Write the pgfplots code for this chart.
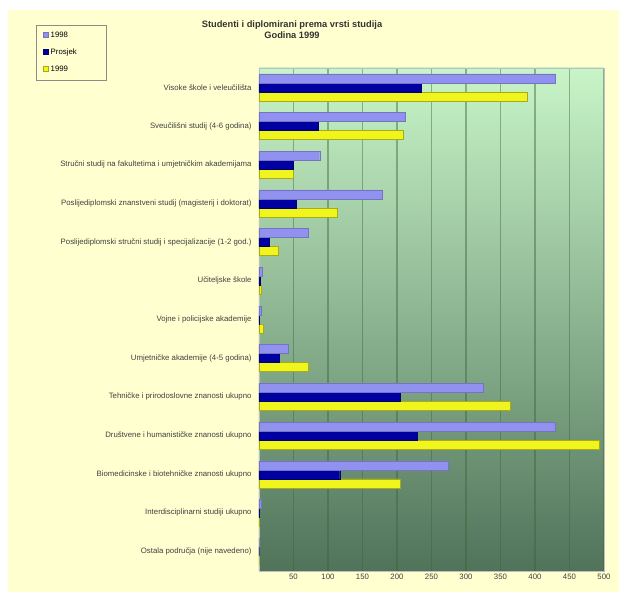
\documentclass[border=0pt]{standalone}
\usepackage{pgfplots}
\pgfplotsset{compat=1.18}
\usepackage{fontspec}
\setmainfont{Liberation Sans}
\definecolor{bgyellow}{RGB}{255,255,208}
\definecolor{barlight}{RGB}{145,145,240}
\definecolor{bardark}{RGB}{0,0,160}
\definecolor{baryellow}{RGB}{240,245,30}
\definecolor{gtop}{RGB}{200,245,200}
\definecolor{gmid}{RGB}{160,205,160}
\definecolor{gbot}{RGB}{80,115,90}
\definecolor{gridc}{RGB}{60,100,60}
\begin{document}
\begin{tikzpicture}
\fill[white] (0pt,0pt) rectangle (619pt,592pt);
\fill[bgyellow] (8pt,0pt) rectangle (619pt,582pt);
\begin{axis}[
  at={(259pt,21pt)}, anchor=south west,
  scale only axis, width=345pt, height=503pt,
  xbar=0pt, bar width=9pt,
  xmin=0, xmax=500,
  ymin=-0.5, ymax=12.5,
  xtick={50,100,...,500},
  ytick={0,...,12},
  yticklabels={
    Ostala područja (nije navedeno),
    Interdisciplinarni studiji ukupno,
    Biomedicinske i biotehničke znanosti ukupno,
    Društvene i humanističke znanosti ukupno,
    Tehničke i prirodoslovne znanosti ukupno,
    Umjetničke akademije (4-5 godina),
    Vojne i policijske akademije,
    Učiteljske škole,
    Poslijediplomski stručni studij i specijalizacije (1-2 god.),
    Poslijediplomski znanstveni studij (magisterij i doktorat),
    Stručni studij na fakultetima i umjetničkim akademijama,
    Sveučilišni studij (4-6 godina),
    Visoke škole i veleučilišta},
  major tick length=0pt,
  tick label style={font=\fontsize{7.8}{9}\selectfont, text=black!75},
  yticklabel style={xshift=-4pt},
  /pgf/number format/assume math mode=true,
  xmajorgrids,
  major grid style={draw=gridc, opacity=0.45, line width=1.2pt},
  axis line style={draw=black!25},
  axis background/.style={shade, top color=gtop, middle color=gmid, bottom color=gbot},
  reverse legend,
  legend cell align=left,
  legend style={at={(-0.646,1.086)}, anchor=north west, fill=bgyellow, draw=black!45,
    font=\fontsize{7.8}{9}\selectfont, row sep=6pt, inner xsep=7pt, inner ysep=5pt,
    nodes={text width=46pt}},
  legend image code/.code={\fill[#1] (0pt,-2pt) rectangle (5pt,3pt);},
]
\addplot[fill=baryellow, draw=black!30!baryellow] coordinates {
 (388,12) (209,11) (49,10) (113,9) (28,8) (3,7) (6,6) (72,5) (364,4) (493,3) (204,2) (1,1) (0,0)};
\addplot[fill=bardark, draw=black!30!bardark] coordinates {
 (235,12) (86,11) (49,10) (54,9) (15,8) (2,7) (1,6) (29,5) (204,4) (229,3) (117,2) (1,1) (0,0)};
\addplot[fill=barlight, draw=black!20!barlight] coordinates {
 (430,12) (212,11) (88,10) (178,9) (71,8) (5,7) (3,6) (42,5) (325,4) (430,3) (274,2) (3,1) (0,0)};
\legend{1999,Prosjek,1998}
\end{axis}
\node[font=\bfseries\fontsize{9.3}{11}\selectfont, align=center, text=black!80] at (292pt,562pt)
  {Studenti i diplomirani prema vrsti studija\\Godina 1999};
\end{tikzpicture}
\end{document}
